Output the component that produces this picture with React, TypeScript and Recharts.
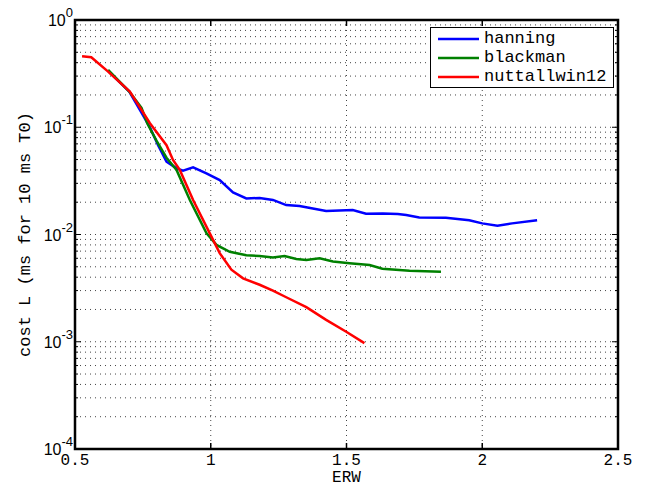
import {
  CartesianGrid,
  Legend,
  Line,
  LineChart,
  ReferenceArea,
  XAxis,
  YAxis,
} from "recharts";

const hanningErw = [
  0.622, 0.7, 0.739, 0.776, 0.806, 0.837, 0.874, 0.898, 0.935, 0.984, 1.033,
  1.082, 1.131, 1.18, 1.229, 1.278, 1.327, 1.376, 1.425, 1.474, 1.523, 1.572,
  1.634, 1.689, 1.72, 1.768, 1.866, 1.952, 2.0, 2.056, 2.11, 2.202,
];
const hanningCost = [
  0.335, 0.215, 0.145, 0.1, 0.068, 0.0477, 0.0414, 0.0394, 0.0423, 0.0372,
  0.0322, 0.0247, 0.0217, 0.0219, 0.021, 0.0188, 0.0184, 0.0175, 0.0166,
  0.0167, 0.0169, 0.0156, 0.0157, 0.0155, 0.0152, 0.0144, 0.0143, 0.0136,
  0.0127, 0.0121, 0.0127, 0.0136,
];

const blackmanErw = [
  0.622, 0.7, 0.745, 0.766, 0.8, 0.837, 0.874, 0.923, 0.984, 1.021, 1.07,
  1.131, 1.18, 1.229, 1.272, 1.315, 1.352, 1.401, 1.45, 1.511, 1.585, 1.632,
  1.732, 1.848,
];
const blackmanCost = [
  0.342, 0.215, 0.152, 0.109, 0.075, 0.052, 0.04, 0.021, 0.0103, 0.008,
  0.0069, 0.0064, 0.0063, 0.0061, 0.0063, 0.0059, 0.0058, 0.006, 0.0056,
  0.0054, 0.0052, 0.0048, 0.0046, 0.0045,
];

const nuttallErw = [
  0.526, 0.56, 0.622, 0.702, 0.776, 0.837, 0.861, 0.886, 0.935, 0.996, 1.033,
  1.076, 1.119, 1.18, 1.229, 1.278, 1.352, 1.425, 1.499, 1.566,
];
const nuttallCost = [
  0.459, 0.449, 0.33, 0.215, 0.109, 0.068, 0.0495, 0.04, 0.021, 0.0103,
  0.0067, 0.0047, 0.0039, 0.0034, 0.003, 0.0026, 0.0021, 0.0016, 0.00124,
  0.00097,
];

const seriesNames = ["hanning", "blackman", "nuttallwin12"];
const xTicks = [0.5, 1, 1.5, 2, 2.5];
const yDecades = [1e-4, 1e-3, 1e-2, 1e-1, 1];
const yMinorSteps = [2, 3, 4, 5, 6, 7, 8, 9];

const yTicks = yDecades.flatMap((d, i) =>
  i < yDecades.length - 1 ? [d, ...yMinorSteps.map((k) => k * d)] : [d]
);

const toPoints = (erw: number[], cost: number[]) =>
  erw.map((x, i) => ({ erw: x, cost: cost[i] }));

const hanning = toPoints(hanningErw, hanningCost);
const blackman = toPoints(blackmanErw, blackmanCost);
const nuttall = toPoints(nuttallErw, nuttallCost);

const W = 646;
const H = 486;
const PLOT_LEFT = 75;
const PLOT_RIGHT = 618;
const PLOT_TOP = 20;
const PLOT_BOTTOM = 449;
const MONO = "'Liberation Mono', 'DejaVu Sans Mono', monospace";
const SANS = "'Liberation Sans', Arial, sans-serif";

function XTick({ x, payload }: any) {
  const v = payload.value;
  const inner = v > 0.5 && v < 2.5;
  return (
    <g>
      {inner && (
        <>
          <line x1={x} x2={x} y1={PLOT_BOTTOM} y2={PLOT_BOTTOM - 6} stroke="#000" strokeWidth={1.5} />
          <line x1={x} x2={x} y1={PLOT_TOP} y2={PLOT_TOP + 6} stroke="#000" strokeWidth={1.5} />
        </>
      )}
      <text x={x} y={PLOT_BOTTOM + 16} textAnchor="middle" fontFamily={MONO} fontSize={16} fill="#000">
        {v}
      </text>
    </g>
  );
}

function YTick({ y, payload }: any) {
  const v = payload.value;
  const exp = Math.log10(v);
  const major = Math.abs(exp - Math.round(exp)) < 1e-9;
  const len = major ? 6 : 3;
  return (
    <g>
      <line x1={PLOT_LEFT} x2={PLOT_LEFT + len} y1={y} y2={y} stroke="#000" strokeWidth={1} />
      <line x1={PLOT_RIGHT - len} x2={PLOT_RIGHT} y1={y} y2={y} stroke="#000" strokeWidth={1} />
      {major && (
        <text x={PLOT_LEFT - 2} y={y + 6} textAnchor="end" fontFamily={SANS} fill="#000">
          <tspan fontSize={16}>10</tspan>
          <tspan fontSize={13} dy={-9}>
            {Math.round(exp)}
          </tspan>
        </text>
      )}
    </g>
  );
}

function LegendBox({ payload }: any) {
  const items = [...(payload || [])].sort(
    (a: any, b: any) => seriesNames.indexOf(a.value) - seriesNames.indexOf(b.value)
  );
  return (
    <div
      style={{
        border: "1.5px solid #000",
        background: "#fff",
        padding: "1px 0 1px 7px",
        fontFamily: MONO,
        fontSize: 17,
        boxSizing: "border-box",
      }}
    >
      {items.map((p: any) => (
        <div key={p.value} style={{ display: "flex", alignItems: "center", height: 19 }}>
          <svg width={41} height={4} style={{ flex: "none" }}>
            <line x1={0} x2={41} y1={2} y2={2} stroke={p.color} strokeWidth={2.5} />
          </svg>
          <span style={{ marginLeft: 5, lineHeight: "19px" }}>{p.value}</span>
        </div>
      ))}
    </div>
  );
}

export default function App() {
  return (
    <div style={{ position: "absolute", left: 0, top: 0, background: "#fff" }}>
      <LineChart
        width={W}
        height={H}
        margin={{ top: PLOT_TOP, right: W - PLOT_RIGHT, bottom: 0, left: 0 }}
      >
        <CartesianGrid stroke="#444" strokeDasharray="1 4" />
        <XAxis
          dataKey="erw"
          type="number"
          domain={[0.5, 2.5]}
          ticks={xTicks}
          allowDataOverflow
          height={H - PLOT_BOTTOM}
          axisLine={false}
          tickLine={false}
          tick={<XTick />}
          label={{
            value: "ERW",
            position: "insideBottom",
            offset: 4,
            fontFamily: MONO,
            fontSize: 16,
            fill: "#000",
          }}
        />
        <YAxis
          type="number"
          scale="log"
          domain={[1e-4, 1]}
          ticks={yTicks}
          allowDataOverflow
          width={PLOT_LEFT}
          axisLine={false}
          tickLine={false}
          tick={<YTick />}
          interval={0}
          label={{
            value: "cost L (ms for 10 ms T0)",
            angle: -90,
            position: "center",
            dx: -14,
            fontFamily: MONO,
            fontSize: 17,
            fill: "#000",
          }}
        />
        <Legend
          layout="vertical"
          align="center"
          verticalAlign="middle"
          wrapperStyle={{ left: 430, top: 27, width: 184 }}
          content={<LegendBox />}
        />
        <Line
          data={hanning}
          dataKey="cost"
          name={seriesNames[0]}
          stroke="#0000ff"
          strokeWidth={2.5}
          dot={false}
          type="linear"
          isAnimationActive={false}
        />
        <Line
          data={blackman}
          dataKey="cost"
          name={seriesNames[1]}
          stroke="#008000"
          strokeWidth={2.5}
          dot={false}
          type="linear"
          isAnimationActive={false}
        />
        <Line
          data={nuttall}
          dataKey="cost"
          name={seriesNames[2]}
          stroke="#ff0000"
          strokeWidth={2.5}
          dot={false}
          type="linear"
          isAnimationActive={false}
        />
        <ReferenceArea
          x1={0.5}
          x2={2.5}
          y1={1e-4}
          y2={1}
          fill="none"
          stroke="#000"
          strokeWidth={2.5}
          ifOverflow="visible"
        />
      </LineChart>
    </div>
  );
}
